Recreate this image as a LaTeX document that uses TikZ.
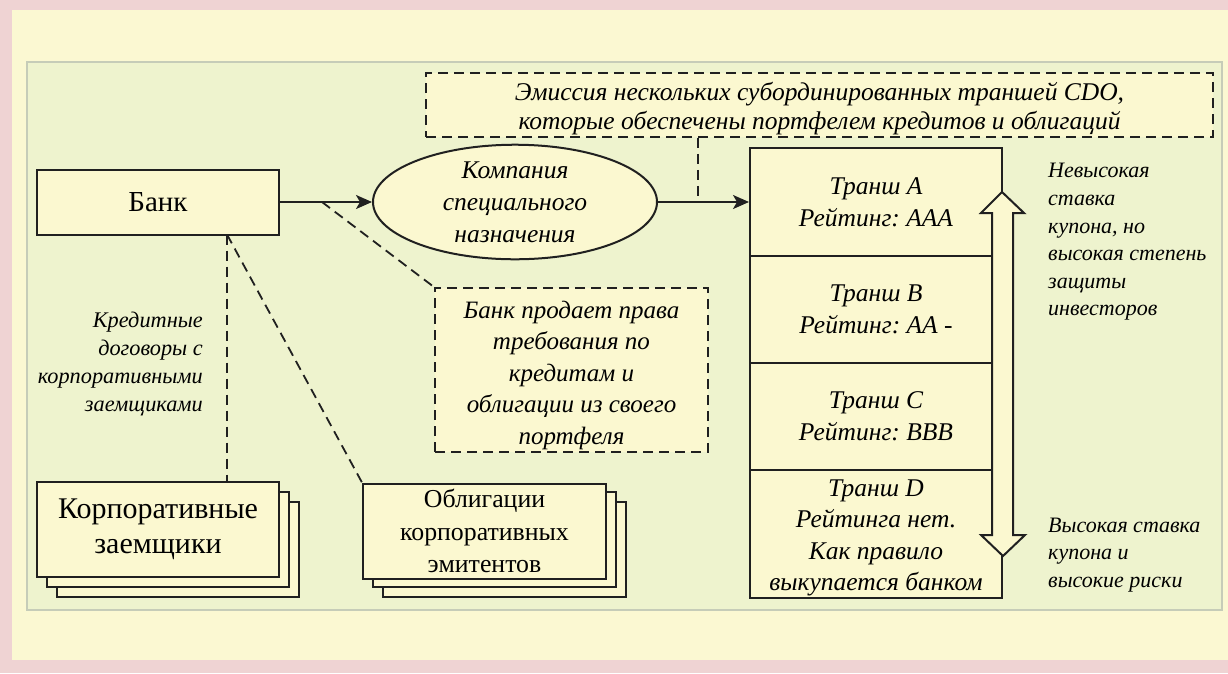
\documentclass[tikz,border=0pt]{standalone}
\usepackage{fontspec}
\setmainfont{Liberation Serif}
\usetikzlibrary{arrows.meta,shapes.geometric,calc}
\definecolor{pinkbg}{HTML}{EFD3D3}
\definecolor{yelbg}{HTML}{FBF8D2}
\definecolor{panel}{HTML}{EEF3CE}
\definecolor{panelline}{HTML}{C6CCB8}
\definecolor{boxfill}{HTML}{FBF8D0}
\definecolor{ink}{HTML}{202020}
\frenchspacing
\begin{document}
\begin{tikzpicture}[x=1pt,y=-1pt,
  box/.style={draw=ink, line width=2pt, fill=boxfill, inner sep=0pt, align=center},
  dbox/.style={draw=ink, line width=1.8pt, dash pattern=on 10pt off 6pt, fill=boxfill, inner sep=0pt, align=center},
  dline/.style={draw=ink, line width=1.8pt, dash pattern=on 10pt off 6pt},
  arr/.style={draw=ink, line width=2pt, -{Stealth[length=16pt,width=14pt,inset=4pt]}},
  plaintxt/.style={inner sep=0pt, align=center},
  itx/.style={font=\itshape\fontsize{25.5}{32}\selectfont},
  sidetxt/.style={font=\itshape\fontsize{22}{27.6}\selectfont, inner sep=0pt},
]
\useasboundingbox (0,0) rectangle (1228,673);
% backgrounds
\fill[pinkbg] (0,0) rectangle (1228,673);
\fill[yelbg] (12,10) rectangle (1228,660);
\filldraw[fill=panel, draw=panelline, line width=1.5pt] (27,62) rectangle (1222,610);

% Bank
\node[box, minimum width=242pt, minimum height=65pt, font=\fontsize{29}{32}\selectfont] (bank) at (158,202) {Банк};

% SPV ellipse
\node[draw=ink, line width=2pt, fill=boxfill, ellipse, inner sep=0pt,
      minimum width=284pt, minimum height=108pt, align=center, itx] (spv) at (515,202)
      {Компания\\специального\\назначения};

% Emission dashed box
\node[dbox, minimum width=787pt, minimum height=64pt] (emis) at (819.5,105) {};
\node[plaintxt, font=\itshape\fontsize{25.5}{29}\selectfont] (emistxt) at (819.5,109)
      {Эмиссия нескольких субординированных траншей CDO,\\которые обеспечены портфелем кредитов и облигаций};

% Tranches
\node[box, minimum width=252pt, minimum height=108pt, itx] (trA) at (876,202) {Транш А\\Рейтинг: ААА};
\node[box, minimum width=252pt, minimum height=107pt, itx] (trB) at (876,309.5) {Транш В\\Рейтинг: АА -};
\node[box, minimum width=252pt, minimum height=107pt, itx] (trC) at (876,416.5) {Транш С\\Рейтинг: ВВВ};
\node[box, minimum width=252pt, minimum height=128pt] (trD) at (876,534) {};
\node[plaintxt, font=\itshape\fontsize{25.5}{31.5}\selectfont] (trDtxt) at (876,538)
     {Транш D\\Рейтинга нет.\\Как правило\\выкупается банком};

% double hollow arrow
\filldraw[fill=boxfill, draw=ink, line width=2pt, line join=miter]
  (1002,192) -- (1024,213) -- (1013,213) -- (1013,535) -- (1025,535) -- (1003,556)
  -- (981,535) -- (992,535) -- (992,213) -- (981,213) -- cycle;

% Bank sells dashed box
\node[dbox, minimum width=273pt, minimum height=164pt] (sell) at (571.5,370) {};
\node[plaintxt, font=\itshape\fontsize{25}{31.5}\selectfont] (selltxt) at (571.5,375)
      {Банк продает права\\требования по\\кредитам и\\облигации из своего\\портфеля};

% Corporate borrowers stack
\node[box, minimum width=242pt, minimum height=95pt] (corp3) at (178,549.5) {};
\node[box, minimum width=242pt, minimum height=95pt] (corp2) at (168,539.5) {};
\node[box, minimum width=242pt, minimum height=95pt, font=\fontsize{30}{35}\selectfont] (corp) at (158,529.5)
     {Корпоративные\\заемщики};

% Bonds stack
\node[box, minimum width=243pt, minimum height=95pt] (obl3) at (504.5,549.5) {};
\node[box, minimum width=243pt, minimum height=95pt] (obl2) at (494.5,539.5) {};
\node[box, minimum width=243pt, minimum height=95pt, font=\fontsize{25.8}{32.5}\selectfont] (obl) at (484.5,531)
     {Облигации\\корпоративных\\эмитентов};

% side texts
\node[sidetxt, align=right, anchor=east, font=\itshape\fontsize{22.3}{28.3}\selectfont] (credit) at (203,364)
     {Кредитные\\договоры с\\корпоративными\\заемщиками};
\node[sidetxt, align=left, anchor=west] (lowrate) at (1048,242)
     {Невысокая\\ставка\\купона, но\\высокая степень\\защиты\\инвесторов};
\node[sidetxt, align=left, anchor=west] (highrate) at (1048,555)
     {Высокая ставка\\купона и\\высокие риски};

% connectors
\draw[arr] (bank.east) -- (spv.west);
\draw[arr] (spv.east) -- (trA.west);
\coordinate (ap) at (322,202);
\coordinate (ej) at (698,202);
\coordinate (bb) at (227,234.5);
\draw[dline] (ap) -- (sell.north west);
\draw[dline] (emis.south -| ej) -- (ej);
\draw[dline] (bb) -- (bb |- corp.north);
\draw[dline] (bb) -- (obl.north west);
\end{tikzpicture}
\end{document}
